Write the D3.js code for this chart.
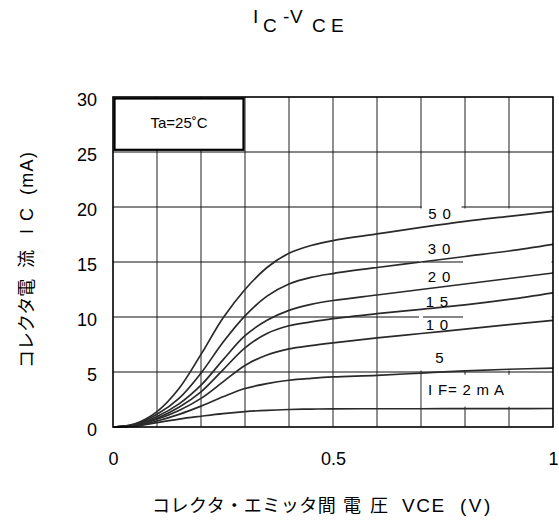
<!DOCTYPE html>
<html>
<head>
<meta charset="utf-8">
<script src="https://cdn.jsdelivr.net/npm/d3@7"></script>
<style>
  html, body { margin: 0; padding: 0; background: #fff; }
  svg { display: block; }
  text { font-family: "Liberation Sans", Arial, "Noto Sans CJK JP", sans-serif; fill: #000; }
</style>
</head>
<body>
<script>
// ---- data ----
const vce = [0, 0.05, 0.1, 0.15, 0.2, 0.25, 0.3, 0.35, 0.4, 0.45, 0.5, 0.6, 0.7, 0.8, 0.9, 1.0];
const ic50 = [0, 0.3, 1.4, 3.5, 6.6, 9.9, 12.5, 14.5, 15.8, 16.5, 16.95, 17.55, 18.15, 18.7, 19.15, 19.6];
const ic30 = [0, 0.25, 1.15, 2.6, 4.9, 7.7, 10.1, 11.9, 13.0, 13.6, 13.95, 14.5, 15.0, 15.5, 16.0, 16.6];
const ic20 = [0, 0.2, 0.95, 2.1, 3.8, 6.1, 8.3, 9.7, 10.6, 11.15, 11.5, 12.0, 12.5, 13.0, 13.5, 14.0];
const ic15 = [0, 0.17, 0.8, 1.8, 3.2, 5.2, 7.2, 8.5, 9.2, 9.55, 9.85, 10.3, 10.7, 11.1, 11.6, 12.2];
const ic10 = [0, 0.15, 0.7, 1.5, 2.6, 4.1, 5.6, 6.55, 7.1, 7.4, 7.65, 8.1, 8.5, 8.9, 9.3, 9.7];
const ic5  = [0, 0.12, 0.55, 1.15, 1.9, 2.75, 3.5, 3.95, 4.25, 4.42, 4.55, 4.7, 4.9, 5.1, 5.25, 5.35];
const ic2  = [0, 0.08, 0.4, 0.72, 0.98, 1.22, 1.4, 1.52, 1.59, 1.63, 1.65, 1.66, 1.66, 1.67, 1.67, 1.68];
const seriesLabels = ["5 0", "3 0", "2 0", "1 5", "1 0", "5", "I F= 2 m A"];
const xTickValues = [0, 0.5, 1];
const xTickLabels = ["0", "0.5", "1"];
const yTickValues = [0, 5, 10, 15, 20, 25, 30];
const yTickLabels = ["0", "5", "10", "15", "20", "25", "30"];
const tempLabel = "Ta=25˚C";

const series = [ic50, ic30, ic20, ic15, ic10, ic5, ic2];

// ---- layout ----
const W = 559, H = 524;
const L = 113, R = 553, T = 97, B = 427;
const svg = d3.select("body").append("svg").attr("width", W).attr("height", H);

const x = d3.scaleLinear().domain([0, 1]).range([L, R]);
const y = d3.scaleLinear().domain([0, 30]).range([B, T]);

// gridlines
const g = svg.append("g");
g.selectAll("line.v").data(d3.range(1, 10).map(i => i / 10)).enter().append("line")
  .attr("x1", d => x(d)).attr("x2", d => x(d)).attr("y1", T).attr("y2", B)
  .attr("stroke", "#333").attr("stroke-width", 1.1);
g.selectAll("line.h").data([5, 10, 15, 20, 25]).enter().append("line")
  .attr("x1", L).attr("x2", R).attr("y1", d => y(d)).attr("y2", d => y(d))
  .attr("stroke", "#111").attr("stroke-width", 1.1);

// white label backgrounds (mask gridlines as in reference)
const masks = svg.append("g").attr("fill", "#fff");
masks.append("rect").attr("x", x(0.8) - 2).attr("y", y(20) + 1.5)
  .attr("width", x(1) - x(0.8) + 0.5).attr("height", y(5) - y(20) - 3);
masks.append("rect").attr("x", x(0.7) - 2).attr("y", y(20) + 1.5)
  .attr("width", 4).attr("height", y(5) - y(20) - 3);
masks.append("rect").attr("x", x(0.702)).attr("y", y(20) - 3)
  .attr("width", x(0.792) - x(0.702)).attr("height", 6);
masks.append("rect").attr("x", x(0.702)).attr("y", y(4.75))
  .attr("width", x(1) - x(0.702) - 1).attr("height", y(1.85) - y(4.75));

// curves
const line = d3.line().x((d, i) => x(vce[i])).y(d => y(d)).curve(d3.curveCatmullRom.alpha(0.5));
svg.append("g").selectAll("path").data(series).enter().append("path")
  .attr("d", d => line(d)).attr("fill", "none")
  .attr("stroke", "#2a2a2a").attr("stroke-width", 1.7);

// frame
svg.append("rect").attr("x", L).attr("y", T).attr("width", R - L).attr("height", B - T)
  .attr("fill", "none").attr("stroke", "#000").attr("stroke-width", 1.6);

// Ta box
svg.append("rect").attr("x", x(0) + 1.5).attr("y", y(30) + 1.5)
  .attr("width", x(0.3) - x(0) - 3).attr("height", y(25.2) - y(30) - 1.5)
  .attr("fill", "#fff").attr("stroke", "#000").attr("stroke-width", 2.2);
svg.append("text").attr("x", x(0.15)).attr("y", 128).attr("text-anchor", "middle")
  .attr("font-size", 15).text(tempLabel);

// series labels
const labelPos = [
  { x: 0.743, y: 18.95, a: "middle" },
  { x: 0.742, y: 15.75, a: "middle" },
  { x: 0.742, y: 13.2,  a: "middle" },
  { x: 0.737, y: 10.95, a: "middle" },
  { x: 0.737, y: 8.8,   a: "middle" },
  { x: 0.743, y: 5.8,   a: "middle" },
  { x: 0.716, y: 2.9,   a: "start" }
];
svg.append("g").selectAll("text").data(seriesLabels).enter().append("text")
  .attr("x", (d, i) => x(labelPos[i].x)).attr("y", (d, i) => y(labelPos[i].y))
  .attr("text-anchor", (d, i) => labelPos[i].a)
  .attr("font-size", 15).attr("letter-spacing", 0.8).text(d => d);

// axes
const yAxis = d3.axisLeft(y).tickValues(yTickValues)
  .tickFormat((d, i) => yTickLabels[i]).tickSize(0).tickPadding(16);
const ya = svg.append("g").attr("transform", `translate(${L},0)`).call(yAxis);
ya.select(".domain").remove();
ya.selectAll("text").attr("font-size", 18).attr("dy", "0.47em")
  .attr("font-family", "Liberation Sans, Arial, sans-serif").attr("fill", "#000");

const xAxis = d3.axisBottom(x).tickValues(xTickValues)
  .tickFormat((d, i) => xTickLabels[i]).tickSize(0).tickPadding(25);
const xa = svg.append("g").attr("transform", `translate(0,${B})`).call(xAxis);
xa.select(".domain").remove();
xa.selectAll("text").attr("font-size", 18)
  .attr("font-family", "Liberation Sans, Arial, sans-serif").attr("fill", "#000");

// title I C - V C E
const title = svg.append("text").attr("font-size", 19);
[["I", 253, 23], ["C", 263, 32], ["-", 283, 23], ["V", 290, 23], ["C", 312, 32], ["E", 331, 32]]
  .forEach(([t, tx, ty]) => title.append("tspan").attr("x", tx).attr("y", ty).text(t));

// x axis title
const xt = svg.append("text").attr("font-size", 18).attr("y", 512);
xt.append("tspan").attr("x", 152).attr("letter-spacing", 0.5).text("コレクタ・エミッタ間");
xt.append("tspan").attr("x", 343).text("電");
xt.append("tspan").attr("x", 370).text("圧");
xt.append("tspan").attr("x", 402).attr("font-size", 19).attr("letter-spacing", 1.5).text("VCE");
xt.append("tspan").attr("x", 460).attr("font-size", 19).attr("letter-spacing", 2.5).text("(V)");

// y axis title (rotated)
const yt = svg.append("g").attr("transform", "translate(33,0) rotate(-90)")
  .append("text").attr("font-size", 18).attr("y", 0);
yt.append("tspan").attr("x", -368).text("コレクタ電");
yt.append("tspan").attr("x", -268).text("流");
yt.append("tspan").attr("x", -234).text("I");
yt.append("tspan").attr("x", -221).text("C");
yt.append("tspan").attr("x", -195).attr("letter-spacing", 1.3).text("(mA)");
</script>
</body>
</html>
